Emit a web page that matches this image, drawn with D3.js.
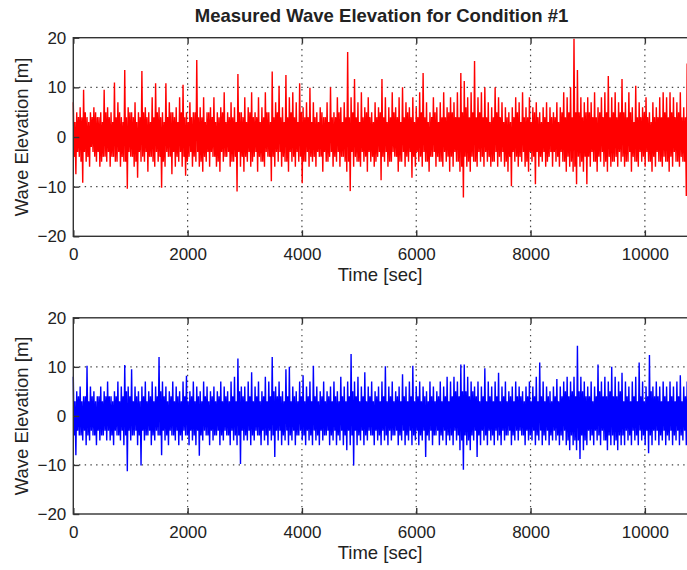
<!DOCTYPE html>
<html>
<head>
<meta charset="utf-8">
<script src="https://cdn.jsdelivr.net/npm/d3@7"></script>
<style>
  body { margin: 0; background: #fff; }
  text { font-family: "Liberation Sans", Arial, sans-serif; fill: #222; }
</style>
</head>
<body>
<div id="chart"></div>
<script>
// samples every 15 sec (peaks/troughs), one row = 600 sec
var sampleStep = 15;

var redElevation = [
  7,-4,3,-7.5, 5,-3,4,-4, 6,-5,4,-9.2, 9.5,-3,5,-5, 4,-4,3,-6, 5,-2,4,-3, 6,-4,5,-5, 4,-3,4,-6, 5,-5,3,-4, 9.5,-4,5,-5,
  6,-3,4,-6, 5,-4,3,-4, 11,-5,4,-5, 7,-3,5,-6, 4,-4,3,-5, 13.5,-5,4,-10.4, 6,-3,5,-4, 5,-4,4,-6, 7,-5,3,-8.2, 5,-3,4,-5,
  13.3,-4,5,-5, 6,-3,4,-7, 5,-4,3,-4, 8,-5,4,-6, 10.8,-3,5,-5, 6,-4,4,-10.2, 5,-5,3,-6, 10.8,-3,4,-4, 7,-4,5,-7.5, 5,-3,4,-6,
  6,-4,3,-5, 8,-3,5,-6, 10.5,-4,4,-7.8, 5,-5,3,-4, 7,-3,4,-6, 5,-4,5,-5, 15.5,-3,4,-6, 6,-5,4,-7, 8,-4,3,-5, 5,-3,5,-6,
  6,-3,4,-4, 8,-4,3,-6, 5,-5,4,-7, 6,-3,5,-5, 9,-4,3,-4, 5,-3,4,-6, 7,-5,4,-5, 6,-4,3,-11, 12.7,-3,5,-6, 5,-4,4,-7,
  8,-4,3,-5, 6,-3,5,-6, 9,-5,4,-4, 5,-3,4,-7, 8,-4,3,-5, 6,-5,4,-6, 9,-3,5,-4, 5,-4,3,-8.9, 13.2,-4,4,-6, 7,-3,5,-5,
  10.3,-3,4,-6, 6,-4,3,-5, 12.5,-5,4,-7, 8,-3,5,-5, 9,-4,4,-6, 7,-3,3,-5, 10.8,-4,5,-9.3, 6,-5,4,-5, 7,-3,4,-6, 9.9,-4,3,-5,
  7,-4,4,-6, 5,-3,3,-4, 6,-4,5,-7, 4,-3,4,-5, 7,-5,3,-4, 10,-3,4,-6, 5,-4,4,-5, 8,-3,5,-6, 6,-4,3,-4, 7,-5,4,-7,
  17.1,-5,4,-10.9, 8,-3,5,-6, 11.7,-4,4,-5, 7,-5,3,-6, 9,-3,4,-5, 6,-4,5,-7, 8,-3,4,-5, 5,-4,3,-6, 7,-5,4,-4, 6,-3,5,-8.7,
  11.7,-4,4,-5, 8,-3,3,-6, 6,-5,4,-5, 9,-3,5,-4, 6,-4,4,-7, 8,-5,3,-5, 10,-3,4,-6, 7,-4,5,-5, 6,-3,4,-8.2, 8,-4,3,-6,
  6,-3,4,-5, 9,-4,5,-6, 12.9,-3,4,-5, 7,-5,3,-7, 5,-4,4,-4, 8,-3,5,-6, 6,-4,3,-5, 7,-5,4,-6, 9,-3,4,-5, 6,-4,5,-7,
  8,-4,5,-6, 7,-3,4,-5, 9,-5,4,-7, 12.9,-6,5,-12.2, 11.3,-4,6,-6, 8,-5,4,-7, 9,-4,5,-5, 15.3,-5,4,-6, 8,-3,5,-5, 9,-4,4,-6,
  10,-3,4,-5, 7,-4,3,-6, 6,-5,4,-5, 10,-3,5,-6, 8,-4,4,-5, 7,-3,3,-6, 6,-5,4,-7, 5,-4,3,-9.9, 6,-3,4,-5, 8,-4,5,-6,
  7,-4,3,-5, 9,-3,4,-6, 6,-5,4,-7, 8,-3,3,-5, 6,-4,5,-9.5, 7,-3,4,-6, 5,-4,3,-5, 6,-3,4,-6, 7,-5,3,-4, 6,-3,4,-6,
  5,-3,4,-5, 7,-4,3,-6, 6,-3,5,-5, 9,-5,4,-7, 8,-4,5,-6, 10,-5,4,-7, 19.8,-6,5,-9.5, 13.5,-4,5,-6, 8,-5,4,-7, 7,-4,5,-9.5,
  8,-4,5,-6, 7,-3,4,-5, 9,-5,4,-7, 6,-4,5,-5, 8,-3,4,-6, 9,-5,5,-7, 12.3,-4,4,-6, 8,-5,5,-5, 9,-4,4,-6, 7,-3,5,-5,
  11.7,-4,5,-6, 7,-5,4,-5, 9,-3,5,-7, 6,-4,3,-5, 10.3,-5,4,-6, 7,-3,4,-5, 6,-4,5,-6, 8,-3,4,-5, 5,-5,3,-7, 7,-4,4,-6,
  6,-3,4,-5, 8,-5,4,-6, 9,-4,5,-5, 8,-5,4,-7, 9,-4,5,-6, 8,-3,4,-5, 7,-5,5,-6, 9,-4,4,-5, 6,-5,4,-11.9, 14.8,-4,5,-6,
  7
];

var blueElevation = [
  8,-4,3,-8, 5,-3,4,-4, 6,-4,3,-5, 4,-3,4,-6, 10.2,-4,3,-5, 6,-3,4,-4, 5,-4,3,-6, 4,-3,4,-5, 6,-4,3,-4, 5,-3,4,-5,
  7,-3,4,-5, 4,-4,3,-6, 5,-3,4,-4, 7,-4,3,-5, 6,-3,4,-6, 10.4,-4,5,-11.3, 6,-3,4,-5, 9.5,-4,3,-4, 6,-3,4,-6, 5,-4,3,-10.1,
  6,-3,4,-5, 7,-4,3,-4, 5,-3,4,-6, 7,-4,3,-5, 6,-3,4,-4, 12,-4,5,-8, 7,-3,4,-5, 6,-4,3,-6, 5,-3,4,-4, 7,-4,3,-5,
  6,-3,4,-6, 5,-4,3,-5, 7,-3,4,-4, 8.2,-4,3,-6, 5,-3,4,-5, 7,-4,3,-6, 6,-3,4,-8.1, 5,-4,3,-5, 7,-3,4,-4, 6,-4,3,-6,
  5,-3,4,-5, 6,-4,3,-4, 5,-3,4,-6, 7,-4,3,-5, 6,-3,4,-4, 5,-4,3,-6, 7,-3,4,-5, 8,-4,3,-6, 11.7,-4,5,-9.8, 6,-3,4,-5,
  6,-4,3,-5, 7,-3,4,-6, 8.9,-4,3,-5, 6,-3,4,-4, 7,-4,3,-6, 5,-3,4,-5, 8,-4,3,-6, 7,-3,4,-5, 12,-4,5,-8.4, 6,-3,4,-5,
  7,-3,4,-6, 5,-4,3,-5, 9.5,-3,4,-6, 10,-4,3,-5, 6,-3,4,-6, 5,-4,3,-4, 7,-3,4,-5, 8.3,-4,3,-6, 6,-3,4,-5, 7,-4,3,-6,
  10.2,-3,4,-5, 6,-4,3,-6, 5,-3,4,-5, 7,-4,3,-4, 5,-3,4,-6, 6,-4,3,-5, 7,-3,4,-6, 5,-4,3,-5, 8,-3,4,-6, 6,-4,3,-7,
  7,-3,4,-6, 12.6,-4,5,-10.1, 7,-3,4,-6, 8,-4,3,-5, 6,-3,4,-6, 8.9,-4,3,-5, 6,-3,4,-4, 7,-4,3,-6, 5,-3,4,-5, 6,-4,3,-6,
  7,-3,4,-5, 10.1,-4,3,-6, 6,-3,4,-5, 7,-4,3,-4, 5,-3,4,-6, 6,-4,3,-5, 8.5,-3,4,-6, 6,-4,3,-5, 7,-3,4,-6, 10.2,-4,3,-5,
  6,-3,4,-6, 7,-4,3,-5, 6,-3,4,-8.4, 5,-4,3,-5, 7,-3,4,-6, 6,-4,3,-4, 5,-3,4,-6, 7,-4,3,-5, 6,-3,4,-6, 8,-4,3,-5,
  7,-4,4,-6, 8,-3,5,-5, 7,-4,4,-7, 10.5,-5,5,-11, 10.5,-4,5,-6, 8,-5,4,-7, 7,-4,5,-5, 6,-3,4,-8.4, 7,-4,3,-6, 6,-3,4,-5,
  9.7,-4,3,-6, 7,-3,4,-5, 6,-4,3,-6, 7,-3,4,-5, 8.8,-4,3,-6, 6,-3,4,-5, 7,-4,3,-4, 5,-3,4,-6, 6,-4,3,-5, 7,-3,4,-5,
  6,-3,4,-4, 5,-4,3,-6, 6,-3,4,-5, 7,-4,3,-5, 6,-3,4,-6, 8,-4,3,-5, 10.9,-3,4,-6, 7,-4,3,-5, 6,-3,4,-6, 5,-4,3,-5,
  6,-3,4,-5, 7.5,-4,3,-6, 6,-4,4,-5, 7,-3,5,-6, 8,-5,4,-7, 7,-4,5,-6, 8,-5,4,-7, 14.3,-5,5,-8.8, 8,-4,5,-7, 7,-5,4,-6,
  6,-3,4,-5, 7,-4,3,-6, 6,-3,4,-5, 10.5,-4,5,-6, 7,-3,4,-5, 8,-5,4,-7, 7,-4,5,-6, 10,-4,4,-6, 8,-5,4,-7, 7,-4,5,-6,
  8.8,-4,3,-6, 7,-3,4,-5, 6,-4,3,-6, 7,-3,4,-5, 8,-4,3,-6, 10.9,-3,4,-5, 7,-4,3,-6, 6,-3,4,-7.6, 12.4,-4,5,-6, 6,-3,4,-5,
  7,-3,4,-6, 6,-4,3,-5, 7,-3,4,-6, 6,-4,3,-5, 7,-3,4,-6, 6,-4,3,-5, 7,-3,4,-6, 8.3,-4,3,-5, 6,-3,4,-6, 7,-4,3,-5,
  6
];

var xTicks = [0, 2000, 4000, 6000, 8000, 10000];
var yTicks = [-20, -10, 0, 10, 20];
var titleText = "Measured Wave Elevation for Condition #1";
var xLabel = "Time [sec]";
var yLabel = "Wave Elevation [m]";

var width = 687, height = 570;
var left = 73.3, right = 690.6;

var svg = d3.select('#chart').append('svg')
    .attr('width', width)
    .attr('height', height);

svg.append('text')
    .attr('x', 381.5).attr('y', 21.5)
    .attr('text-anchor', 'middle')
    .style('font-size', '18.5px')
    .style('font-weight', 'bold')
    .text(titleText);

var x = d3.scaleLinear().domain([0, 10800]).range([left, right]);

function drawPanel(values, color, top, bottom) {
    var y = d3.scaleLinear().domain([-20, 20]).range([bottom, top]);
    var g = svg.append('g');

    // dotted grid
    g.selectAll('.gx').data(xTicks.slice(1)).enter().append('line')
        .attr('x1', function(d) { return x(d); }).attr('x2', function(d) { return x(d); })
        .attr('y1', top).attr('y2', bottom)
        .attr('stroke', '#444').attr('stroke-width', 1.2)
        .attr('stroke-dasharray', '1.4,4.3');
    g.selectAll('.gy').data(yTicks.slice(1, -1)).enter().append('line')
        .attr('x1', left).attr('x2', right)
        .attr('y1', function(d) { return y(d); }).attr('y2', function(d) { return y(d); })
        .attr('stroke', '#444').attr('stroke-width', 1.2)
        .attr('stroke-dasharray', '1.4,4.3');

    var line = d3.line()
        .x(function(d, i) { return x(i * sampleStep); })
        .y(function(d) { return y(d); });

    g.append('path')
        .attr('d', line(values))
        .attr('fill', 'none')
        .attr('stroke', color)
        .attr('stroke-width', 1.4)
        .attr('stroke-linejoin', 'miter')
        .attr('stroke-miterlimit', 2);

    // box + inward ticks (matlab style)
    g.append('rect')
        .attr('x', left).attr('y', top)
        .attr('width', right - left).attr('height', bottom - top)
        .attr('fill', 'none').attr('stroke', '#333').attr('stroke-width', 1.4);

    var fmt = d3.format('d');
    var xAxis = d3.axisBottom(x).tickValues(xTicks).tickFormat(fmt).tickSizeInner(-6).tickSizeOuter(0).tickPadding(12);
    var xTop = d3.axisTop(x).tickValues(xTicks).tickSizeInner(-6).tickSizeOuter(0).tickFormat('');
    var yAxis = d3.axisLeft(y).tickValues(yTicks).tickFormat(fmt).tickSizeInner(-6).tickSizeOuter(0).tickPadding(7);

    var ax = g.append('g').attr('transform', 'translate(0,' + bottom + ')').call(xAxis);
    var at = g.append('g').attr('transform', 'translate(0,' + top + ')').call(xTop);
    var ay = g.append('g').attr('transform', 'translate(' + left + ',0)').call(yAxis);
    [ax, at, ay].forEach(function(a) {
        a.select('.domain').remove();
        a.selectAll('line').attr('stroke', '#333').attr('stroke-width', 1.4);
        a.selectAll('text').style('font-size', '17px').attr('fill', '#222');
    });

    g.append('text')
        .attr('x', 380).attr('y', bottom + 45)
        .attr('text-anchor', 'middle')
        .style('font-size', '18.5px')
        .text(xLabel);

    g.append('text')
        .attr('transform', 'translate(28,' + ((top + bottom) / 2) + ') rotate(-90)')
        .attr('text-anchor', 'middle')
        .style('font-size', '18.5px')
        .text(yLabel);
}

drawPanel(redElevation, '#ff0000', 37.7, 236.3);
drawPanel(blueElevation, '#0000ff', 317.8, 514);
</script>
</body>
</html>
